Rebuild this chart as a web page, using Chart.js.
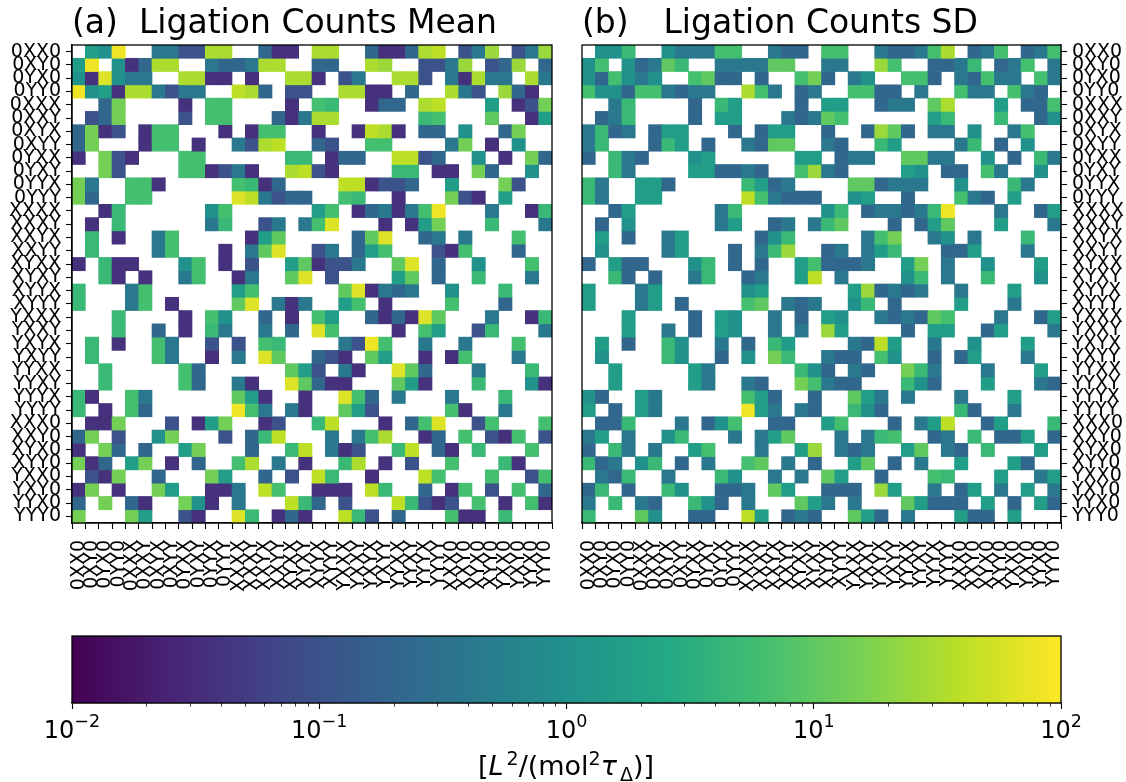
<!DOCTYPE html>
<html>
<head>
<meta charset="utf-8">
<title>Ligation Counts</title>
<script src="https://cdn.jsdelivr.net/npm/chart.js@4/dist/chart.umd.min.js"></script>
<style>
    body { margin: 0; background: #fff; font-family: "DejaVu Sans", sans-serif; overflow: hidden; }
    canvas { position: absolute; }
    #barLabel { position: absolute; left: 0; width: 1132px; top: 749px; text-align: center; font-size: 27px; color: #000; line-height: 34px; white-space: nowrap; }
    #barLabel sup, #barLabel sub { font-size: 19px; line-height: 0; }
    #barLabel i { margin-right: 3px; }
</style>
</head>
<body>
<canvas id="meanChart" width="563" height="620" style="left:0;top:0"></canvas>
<canvas id="sdChart" width="563" height="620" style="left:563px;top:0"></canvas>
<canvas id="barChart" width="1126" height="125" style="left:0;top:625px"></canvas>
<div id="barLabel">[<i>L</i><sup>2</sup>/(mol<sup>2</sup><i>τ</i><sub>Δ</sub>)]</div>
<script>
const _ = null;

const stateLabels = ['0XX0', '0XY0', '0YX0', '0YY0', '0XXX', '0XXY', '0XYX', '0XYY', '0YXX', '0YXY', '0YYX', '0YYY',
    'XXXX', 'XXXY', 'XXYX', 'XXYY', 'XYXX', 'XYXY', 'XYYX', 'XYYY', 'YXXX', 'YXXY', 'YXYX', 'YXYY', 'YYXX', 'YYXY', 'YYYX', 'YYYY',
    'XXX0', 'XXY0', 'XYX0', 'XYY0', 'YXX0', 'YXY0', 'YYX0', 'YYY0'];

const meanRows = [
    [_,1.6,1,80,_,_,.4,.4,.1,.1,32,32,_,_,.21,.036,.036,_,32,32,_,_,.21,.036,.036,.21,32,40,_,.1,.4,25,_,.1,.4,25],
    [1.6,80,_,1,.036,.21,32,32,_,_,.4,.21,.21,.4,32,32,_,_,.21,.21,_,_,32,25,_,_,.1,.1,.4,25,_,.1,.21,25,_,.21],
    [1,.036,63,1,.4,.4,_,_,32,32,.036,.036,_,.036,_,_,32,32,.036,_,.1,.4,_,_,32,32,.1,_,.4,.036,32,.4,.4,_,32,.4],
    [80,1,1.6,.036,32,32,.4,.1,.4,.4,_,_,40,32,.21,_,.1,.1,_,_,32,32,.036,.036,_,.21,_,_,32,.4,.1,_,25,.21,.036,_],
    [_,_,.21,14,_,_,_,_,.036,_,6.3,6.3,_,_,_,_,.036,_,6.3,4.7,_,_,.036,.21,.21,_,32,40,_,_,_,1.6,_,.036,.1,14],
    [_,.1,.21,14,_,_,_,_,.1,_,6.3,6.3,_,_,_,.21,.036,.4,32,32,_,_,_,_,_,_,4.7,6.3,_,_,_,10,_,_,.036,1.6],
    [.21,14,.036,.1,_,.036,6.3,6.3,_,_,_,.036,_,.036,6.3,6.3,_,_,.036,_,_,.036,40,32,.036,_,.21,.21,_,1,_,_,.21,14,_,_],
    [.21,14,_,_,_,.036,6.3,6.3,_,.036,_,_,.4,.1,32,40,_,_,.21,.1,_,_,6.3,6.3,_,_,_,_,.4,14,_,.036,_,1,_,_],
    [.036,_,14,.1,.036,_,_,_,6.3,6.3,_,_,_,_,_,_,4.7,4.7,_,.036,.21,.21,_,_,40,40,.1,.21,_,_,1,_,.036,_,14,.21],
    [_,_,14,.1,_,_,_,_,6.3,6.3,.036,.1,.4,.036,_,_,32,40,.1,.036,_,_,_,_,4.7,4.7,_,.036,.036,_,14,.21,_,_,1,_],
    [14,.4,_,_,6.3,6.3,.036,_,_,_,_,_,6.3,4.7,.036,.21,_,_,_,_,40,40,.036,.1,.1,.21,_,_,1.6,_,_,_,14,.1,_,_],
    [14,.21,_,_,6.3,6.3,_,_,_,_,_,_,63,40,.4,.1,.21,.21,_,_,6.3,4.7,_,_,.036,_,_,_,14,.1,.036,_,1.6,_,_,_],
    [_,_,.036,4.7,_,_,_,_,_,_,1,6.3,_,_,_,_,_,_,1.6,6.3,_,.036,.21,.4,.036,.4,6.3,80,_,_,_,.4,_,_,.036,4.7],
    [_,.036,_,4.7,_,_,_,_,_,_,.4,4.7,_,_,.1,.4,_,.4,6.3,63,_,_,_,.036,_,.036,1.6,14,_,_,_,4.7,_,_,_,.4],
    [_,4.7,_,.036,_,_,.4,6.3,_,_,_,_,_,.036,1.6,10,_,_,_,_,_,.21,10,63,_,_,.21,.4,_,.4,_,_,_,6.3,_,_],
    [_,4.7,_,_,_,_,.4,6.3,_,_,_,.036,_,.4,10,63,_,_,.1,.4,_,.21,1.6,6.3,_,_,_,.1,.036,6.3,_,_,_,.21,_,_],
    [.036,_,4.7,.036,.036,_,_,_,1,6.3,_,.036,_,.1,_,_,1.6,10,.036,.1,.1,.4,_,_,10,63,_,.21,_,_,1,_,_,_,6.3,_],
    [_,_,4.7,.036,_,.036,_,_,.4,6.3,_,_,.036,.4,_,_,10,63,_,.1,_,_,_,_,1.6,10,_,.21,_,_,4.7,_,_,_,.4,_],
    [4.7,_,_,_,.4,6.3,_,_,_,_,_,_,1.6,6.3,_,_,_,_,_,_,10,63,.036,.4,.21,.4,_,_,1,_,_,_,4.7,_,_,_],
    [4.7,_,_,_,.4,6.3,_,.036,_,_,_,_,10,63,_,.4,.036,.4,_,_,1.6,6.3,_,.036,_,_,_,_,6.3,_,_,_,.21,_,_,_],
    [_,_,_,4.7,_,_,_,_,.036,_,6.3,1,_,_,.21,_,.036,_,6.3,1.6,_,_,.21,.036,.21,.036,63,10,_,_,_,.4,_,_,.036,4.7],
    [_,_,_,4.7,_,_,.21,_,.036,_,4.7,.4,_,_,.4,_,.21,_,63,6.3,_,_,_,_,.036,_,6.3,1.6,_,_,.1,4.7,_,_,_,.4],
    [_,4.7,_,.036,_,_,6.3,.4,_,_,.1,_,.1,_,6.3,4.7,_,_,_,_,.4,.1,80,6.3,_,_,.4,_,_,.4,_,_,_,6.3,_,_],
    [_,4.7,_,_,_,_,6.3,.4,_,_,.036,_,.4,_,63,10,_,_,.21,.1,.036,_,10,1.6,_,_,.036,_,.036,6.3,_,_,_,.4,_,_],
    [_,_,4.7,_,_,_,_,_,6.3,.21,_,_,_,_,_,_,10,1.6,.1,_,.4,.036,_,_,63,10,.21,_,_,_,.4,_,_,_,4.7,_],
    [_,_,4.7,_,_,_,_,_,6.3,.21,_,_,.4,.036,_,_,63,10,.21,.036,.036,_,_,_,10,1.6,.036,_,_,_,4.7,_,_,_,1,.036],
    [4.7,.036,_,_,6.3,.4,_,_,_,_,_,_,10,1.6,.036,_,_,.036,_,_,63,6.3,.21,_,.4,_,_,_,.4,_,_,_,4.7,_,_,_],
    [4.7,_,.036,_,6.3,.21,_,_,_,_,_,_,80,6.3,.4,_,.4,.036,_,_,10,1.6,.1,_,_,_,_,_,6.3,.036,_,_,.4,_,_,_],
    [_,.036,.036,14,_,_,_,.1,_,.036,1.6,14,_,_,.036,.1,_,_,4.7,40,_,_,_,.036,_,.21,6.3,63,_,_,.1,6.3,_,_,_,6.3],
    [.21,14,_,.1,_,_,1,14,_,_,_,.1,_,.21,4.7,40,_,_,_,.4,_,.4,6.3,32,_,_,.036,.21,_,6.3,_,.1,.036,6.3,_,.1],
    [.036,_,14,.21,_,.21,_,_,1.6,14,_,_,_,.21,_,_,4.7,40,_,.4,.036,.1,_,_,4.7,40,_,.21,.036,_,4.7,_,_,_,6.3,_],
    [14,.036,.21,_,1.6,14,_,.036,_,.21,_,_,6.3,32,_,.4,_,.036,_,_,4.7,32,_,.036,_,.1,_,_,6.3,_,_,_,4.7,.036,_,_],
    [_,.1,.036,14,_,_,.21,_,_,_,14,1.6,_,_,.21,_,.1,_,40,4.7,_,_,.036,_,_,_,40,6.3,_,_,_,6.3,_,_,.1,6.3],
    [.036,14,_,.036,_,_,14,1.6,_,_,.036,.036,.4,_,40,6.3,_,_,.036,.036,.036,_,40,4.7,_,_,.21,_,.036,6.3,_,.1,_,6.3,_,.21],
    [.21,_,14,_,.21,.036,_,_,14,1,.036,_,.4,_,_,_,40,4.7,.21,_,.1,_,_,_,40,4.7,.1,.036,.1,_,6.3,_,.036,_,6.3,.036],
    [14,_,_,_,14,1.6,_,_,.1,.036,_,_,63,4.7,_,.036,.21,.036,_,_,40,4.7,.1,_,.21,_,_,_,6.3,.036,.036,_,4.7,_,_,_]
];

const sdRows = [
    [_,1,1,4.7,_,_,1,.4,.4,.4,6.3,6.3,_,_,.4,.21,.21,_,6.3,6.3,_,_,.4,.21,.21,.4,6.3,32,_,.21,.4,6.3,_,.21,.4,6.3],
    [1,6.3,_,1,.21,.4,10,4.7,_,_,.4,.4,.4,.4,10,10,_,_,.4,.4,_,_,25,6.3,_,_,.21,.21,.4,4.7,_,.21,.4,6.3,_,.4],
    [1,.21,6.3,1,.4,1,_,_,6.3,10,.21,.21,_,.21,_,_,6.3,14,.21,_,.4,1,_,_,6.3,6.3,.21,_,.4,.21,6.3,.4,.4,_,6.3,.4],
    [6.3,1,1,.21,6.3,6.3,.4,.21,.4,.4,_,_,32,6.3,.4,_,.21,.4,_,_,6.3,6.3,.21,.21,_,.4,_,_,6.3,.4,.4,_,6.3,.4,.21,_],
    [_,_,.4,4.7,_,_,_,_,.21,_,4.7,1.6,_,_,_,_,.21,_,1.6,1.6,_,_,.21,.4,.4,_,10,32,_,_,_,1.6,_,.21,.21,6.3],
    [_,.21,.4,4.7,_,_,_,_,.21,_,1.6,1.6,_,_,_,.4,.21,.4,10,6.3,_,_,_,_,_,_,1.6,4.7,_,_,_,4.7,_,_,.21,1],
    [.4,4.7,.21,.4,_,.21,1.6,1.6,_,_,_,.21,_,.21,1.6,1.6,_,_,.21,_,_,.21,25,10,.21,_,.4,.4,_,1,_,_,.4,6.3,_,_],
    [.4,4.7,_,_,_,.21,4.7,1.6,_,.21,_,_,.4,.21,10,10,_,_,.4,.21,_,_,4.7,1.6,_,_,_,_,.4,4.7,_,.21,_,1,_,_],
    [.21,_,4.7,.4,.21,_,_,_,1,1.6,_,_,_,_,_,_,1.6,1.6,_,.21,.4,.4,_,_,10,10,.4,.4,_,_,1,_,.21,_,4.7,.4],
    [_,_,4.7,.4,_,_,_,_,1.6,1.6,.21,.21,.4,.21,_,_,6.3,25,.4,.21,_,_,_,_,1.6,1,_,.21,.21,_,6.3,.4,_,_,1,_],
    [4.7,.4,_,_,1.6,1.6,.21,_,_,_,_,_,4.7,1.6,.21,.4,_,_,_,_,10,10,.21,.4,.4,.4,_,_,1,_,_,_,4.7,.4,_,_],
    [4.7,.4,_,_,1.6,1.6,_,_,_,_,_,_,40,6.3,.4,.21,.21,.21,_,_,1,1.6,_,_,.21,_,_,_,6.3,.4,.21,_,1.6,_,_,_],
    [_,_,.21,1.6,_,_,_,_,_,_,.4,4.7,_,_,_,_,_,_,1,4.7,_,.21,.4,.4,.21,.4,4.7,80,_,_,_,.4,_,_,.21,1.6],
    [_,.21,_,1,_,_,_,_,_,_,.4,1.6,_,_,.21,.4,_,.4,4.7,10,_,_,_,.21,_,.21,1.6,10,_,_,_,1.6,_,_,_,.4],
    [_,1.6,_,.21,_,_,.4,1.6,_,_,_,_,_,.21,1,4.7,_,_,_,_,_,.4,6.3,14,_,_,.4,1,_,.4,_,_,_,4.7,_,_],
    [_,1,_,_,_,_,.4,1.6,_,_,_,.21,_,.4,4.7,25,_,_,.21,.4,_,.4,1.6,4.7,_,_,_,.21,.21,1.6,_,_,_,.4,_,_],
    [.21,_,1.6,.21,.21,_,_,_,1,4.7,_,.21,_,.21,_,_,1.6,6.3,.21,.21,.21,.4,_,_,1.6,14,_,.4,_,_,1,_,_,_,1.6,_],
    [_,_,4.7,.21,_,.21,_,_,.4,4.7,_,_,.21,.4,_,_,1.6,40,_,.4,_,_,_,_,1,4.7,_,.4,_,_,4.7,_,_,_,1,_],
    [1.6,_,_,_,.4,1.6,_,_,_,_,_,_,1,1.6,_,_,_,_,_,_,1.6,25,.21,.4,.21,.4,_,_,.4,_,_,_,1.6,_,_,_],
    [1.6,_,_,_,.4,1.6,_,.21,_,_,_,_,6.3,10,_,.4,.21,.4,_,_,1,4.7,_,.21,_,_,_,_,1.6,_,_,_,.4,_,_,_],
    [_,_,_,1.6,_,_,_,_,.21,_,1.6,1,_,_,.4,_,.21,_,1.6,1,_,_,.4,.21,.4,.21,10,6.3,_,_,_,.4,_,_,.21,1.6],
    [_,_,_,1.6,_,_,.4,_,.21,_,1.6,1,_,_,.4,_,.4,_,25,1.6,_,_,_,_,.21,_,1.6,1.6,_,_,.21,1.6,_,_,_,.4],
    [_,1.6,_,.21,_,_,4.7,1,_,_,.4,_,.21,_,4.7,1.6,_,_,_,_,.4,.21,40,1.6,_,_,.4,_,_,1,_,_,_,1.6,_,_],
    [_,1,_,_,_,_,4.7,1,_,_,.21,_,1,_,14,4.7,_,_,.4,.21,.21,_,6.3,1,_,_,.21,_,.21,1.6,_,_,_,.4,_,_],
    [_,_,1.6,_,_,_,_,_,1.6,.4,_,_,_,_,_,_,4.7,1,.21,_,.4,.21,_,_,14,4.7,.4,_,_,_,.4,_,_,_,1.6,_],
    [_,_,1.6,_,_,_,_,_,1.6,.4,_,_,.4,.21,_,_,14,6.3,.4,.21,.21,_,_,_,4.7,1,.21,_,_,_,1.6,_,_,_,.4,.21],
    [1,.21,_,_,1.6,.4,_,_,_,_,_,_,6.3,1.6,.21,_,_,.21,_,_,10,1.6,.4,_,.4,_,_,_,.4,_,_,_,1.6,_,_,_],
    [1.6,_,.21,_,1.6,.4,_,_,_,_,_,_,80,1.6,.4,_,.4,.21,_,_,4.7,1,.21,_,_,_,_,_,4.7,.21,_,_,.4,_,_,_],
    [_,.21,.21,4.7,_,_,_,.4,_,.21,1,6.3,_,_,.21,.21,_,_,1.6,6.3,_,_,_,.21,_,.4,1.6,40,_,_,.21,1.6,_,_,_,4.7],
    [.4,1.6,_,.4,_,_,1,4.7,_,_,_,.4,_,.4,1.6,10,_,_,_,.4,_,.4,4.7,6.3,_,_,.21,.4,_,4.7,_,.21,.21,1.6,_,.21],
    [.21,_,4.7,.4,_,.4,_,_,1.6,6.3,_,_,_,.4,_,_,1.6,25,_,.4,.21,.4,_,_,1.6,10,_,.4,.21,_,4.7,_,_,_,1.6,_],
    [4.7,.21,.4,_,1,4.7,_,.21,_,.4,_,_,6.3,10,_,.4,_,.21,_,_,1.6,10,_,.21,_,.4,_,_,1.6,_,_,_,1.6,.21,_,_],
    [_,.4,.21,4.7,_,_,.4,_,_,_,4.7,1,_,_,.4,_,.4,_,10,1.6,_,_,.21,_,_,_,6.3,4.7,_,_,_,1.6,_,_,.4,1.6],
    [.21,4.7,_,.21,_,_,4.7,1,_,_,.21,.21,.4,_,10,1.6,_,_,.21,.21,.21,_,25,1.6,_,_,.4,_,.21,1.6,_,.4,_,1.6,_,.4],
    [.4,_,4.7,_,.4,.21,_,_,4.7,1,.21,_,.4,_,_,_,10,1.6,.4,_,.4,_,_,_,10,1.6,.21,.21,.21,_,1.6,_,.21,_,1.6,.21],
    [4.7,_,_,_,10,1,_,_,.21,.21,_,_,40,1.6,_,.21,.4,.21,_,_,10,1.6,.21,_,.4,_,_,_,1.6,.21,.21,_,1.6,_,_,_]
];

const viridisStops = ['#440154', '#482475', '#414487', '#355f8d', '#2a788e', '#21918c', '#22a884', '#44bf70', '#7ad151', '#bddf26', '#fde725'];
const barTickValues = [0.01, 0.1, 1, 10, 100];
const barTickExponents = ['−2', '−1', '0', '1', '2'];

function hexToRgb(hex) {
    return [1, 3, 5].map(i => parseInt(hex.slice(i, i + 2), 16));
}

// same log norm as the colorbar, 1e-2 .. 1e2
function cellColor(value) {
    const t = Math.min(1, Math.max(0, (Math.log10(value) + 2) / 4)) * (viridisStops.length - 1);
    const i = Math.min(Math.floor(t), viridisStops.length - 2);
    const low = hexToRgb(viridisStops[i]);
    const high = hexToRgb(viridisStops[i + 1]);
    const rgb = low.map((c, k) => Math.round(c + (high[k] - c) * (t - i)));
    return `rgb(${rgb[0]},${rgb[1]},${rgb[2]})`;
}

const framePlugin = {
    id: 'frame',
    afterDraw(chart) {
        const area = chart.chartArea;
        const ctx = chart.ctx;
        ctx.save();
        ctx.strokeStyle = '#000';
        ctx.lineWidth = 1.3;
        ctx.strokeRect(area.left, area.top, area.right - area.left, area.bottom - area.top);
        ctx.restore();
    }
};

function heatmap(id, rows, titleText, yPosition, padding) {
    const tickFont = { family: 'DejaVu Sans', size: 19 };
    const grid = { drawOnChartArea: false, tickLength: 6, tickColor: '#000', tickWidth: 1.1 };
    return new Chart(document.getElementById(id), {
        type: 'bar',
        data: {
            labels: stateLabels,
            datasets: rows.map((row, r) => ({
                data: row.map(value => value === null ? null : [r, r + 1]),
                backgroundColor: row.map(value => value === null ? 'transparent' : cellColor(value)),
                barPercentage: 1,
                categoryPercentage: 1,
                grouped: false,
                borderWidth: 0
            }))
        },
        options: {
            responsive: false,
            animation: false,
            layout: { padding: padding },
            plugins: {
                legend: { display: false },
                tooltip: { enabled: false },
                title: {
                    display: true,
                    text: titleText,
                    align: 'start',
                    fullSize: false,
                    color: '#000',
                    font: { family: 'DejaVu Sans', size: 33, weight: 'normal', lineHeight: 1.1 },
                    padding: { top: 6, bottom: 2.7 }
                }
            },
            scales: {
                x: {
                    grid: grid,
                    border: { color: '#000', width: 1.3 },
                    ticks: { color: '#000', font: tickFont, autoSkip: false, minRotation: 90, maxRotation: 90, padding: 11 },
                    afterFit: scale => {
                        scale.height = 97;
                        scale.paddingLeft = 0;
                        scale.paddingRight = 0;
                    }
                },
                y: {
                    position: yPosition,
                    min: 0,
                    max: stateLabels.length,
                    reverse: true,
                    grid: grid,
                    border: { color: '#000', width: 1.3 },
                    ticks: {
                        color: '#000', font: tickFont, autoSkip: false, padding: 5,
                        callback: (value, index) => stateLabels[index]
                    },
                    afterBuildTicks: scale => { scale.ticks = stateLabels.map((label, i) => ({ value: i + 0.5 })); },
                    afterFit: scale => { scale.width = yPosition === 'left' ? 72 : 65; }
                }
            }
        },
        plugins: [framePlugin]
    });
}

heatmap('meanChart', meanRows, '(a)  Ligation Counts Mean', 'left', { right: 11 });
heatmap('sdChart', sdRows, '(b)   \u200aLigation Counts SD', 'right', { left: 19 });

// log minor ticks and the 10^n labels, which the tick callback cannot raise
const barTicksPlugin = {
    id: 'barTicks',
    afterDraw(chart) {
        const scale = chart.scales.x;
        const bottom = chart.chartArea.bottom;
        const ctx = chart.ctx;
        ctx.save();
        ctx.strokeStyle = '#000';
        ctx.lineWidth = 0.8;
        barTickValues.slice(0, -1).forEach(decade => {
            for (let m = 2; m < 10; m++) {
                const x = Math.round(scale.getPixelForValue(decade * m)) + 0.5;
                ctx.beginPath();
                ctx.moveTo(x, bottom);
                ctx.lineTo(x, bottom + 3.5);
                ctx.stroke();
            }
        });
        ctx.fillStyle = '#000';
        ctx.textAlign = 'left';
        ctx.textBaseline = 'alphabetic';
        barTickValues.forEach((value, i) => {
            const x = scale.getPixelForValue(value);
            ctx.font = '24px "DejaVu Sans"';
            const baseWidth = ctx.measureText('10').width;
            ctx.font = '17.5px "DejaVu Sans"';
            const expWidth = ctx.measureText(barTickExponents[i]).width;
            const start = x - (baseWidth + expWidth) / 2;
            ctx.font = '24px "DejaVu Sans"';
            ctx.fillText('10', start, bottom + 35);
            ctx.font = '17.5px "DejaVu Sans"';
            ctx.fillText(barTickExponents[i], start + baseWidth, bottom + 24);
        });
        ctx.restore();
    }
};

new Chart(document.getElementById('barChart'), {
    type: 'bar',
    data: {
        labels: [''],
        datasets: [{
            data: [[barTickValues[0], barTickValues[barTickValues.length - 1]]],
            barPercentage: 1,
            categoryPercentage: 1,
            borderWidth: 0,
            backgroundColor: context => {
                const area = context.chart.chartArea;
                if (!area) return viridisStops[5];
                const gradient = context.chart.ctx.createLinearGradient(area.left, 0, area.right, 0);
                viridisStops.forEach((color, i) => gradient.addColorStop(i / (viridisStops.length - 1), color));
                return gradient;
            }
        }]
    },
    options: {
        indexAxis: 'y',
        responsive: false,
        animation: false,
        layout: { padding: { top: 11, left: 72, right: 65 } },
        plugins: { legend: { display: false }, tooltip: { enabled: false } },
        scales: {
            x: {
                type: 'logarithmic',
                min: barTickValues[0],
                max: barTickValues[barTickValues.length - 1],
                grid: { drawOnChartArea: false, tickLength: 6, tickColor: '#000', tickWidth: 1.1 },
                border: { color: '#000', width: 1.3 },
                ticks: { display: false },
                afterBuildTicks: scale => { scale.ticks = barTickValues.map(value => ({ value: value, major: true })); },
                afterFit: scale => { scale.height = 47; }
            },
            y: { display: false }
        }
    },
    plugins: [framePlugin, barTicksPlugin]
});
</script>
</body>
</html>
